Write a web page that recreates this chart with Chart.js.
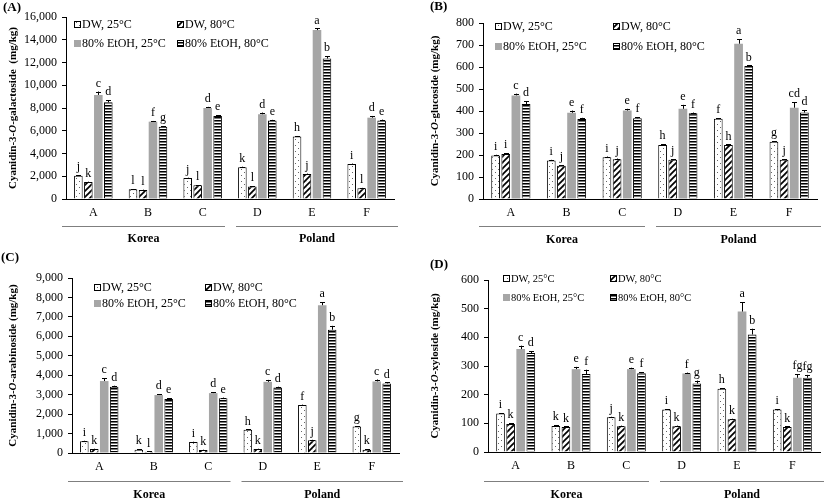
<!DOCTYPE html>
<html lang="en">
<head>
<meta charset="UTF-8">
<title>Cyanidin glycosides</title>
<script src="https://cdn.jsdelivr.net/npm/chart.js"></script>
<style>
  * { margin: 0; padding: 0; box-sizing: border-box; }
  body { width: 827px; height: 503px; background: #fff; position: relative; overflow: hidden; }
  canvas { position: absolute; }
</style>
</head>
<body>
<canvas id="chartA" width="413" height="250" style="left:0;top:0"></canvas>
<canvas id="chartB" width="414" height="250" style="left:413px;top:0"></canvas>
<canvas id="chartC" width="413" height="253" style="left:0;top:250px"></canvas>
<canvas id="chartD" width="414" height="253" style="left:413px;top:250px"></canvas>
<script>
const categories = ['A', 'B', 'C', 'D', 'E', 'F'];
const regions = ['Korea', 'Poland'];
const seriesNames = ['DW, 25°C', 'DW, 80°C', '80% EtOH, 25°C', '80% EtOH, 80°C'];

// (A) cyanidin-3-O-galactoside
const galDW25 = [2050, 850, 1850, 2800, 5500, 3080];
const galDW80 = [1500, 800, 1200, 1100, 2200, 950];
const galEt25 = [9150, 6800, 8000, 7450, 14850, 7150];
const galEt80 = [8500, 6350, 7300, 6900, 12350, 6900];
const galErr = [[40, 30, 30, 40, 40, 40], [30, 30, 30, 30, 40, 30], [300, 60, 100, 150, 150, 150], [200, 60, 60, 60, 200, 80]];
const galLetters = [['j', 'l', 'j', 'k', 'h', 'i'], ['k', 'l', 'l', 'l', 'j', 'l'], ['c', 'f', 'd', 'd', 'a', 'd'], ['d', 'g', 'e', 'e', 'b', 'e']];
const galTicks = [0, 16000, 2000];

// (B) cyanidin-3-O-glucoside
const gluDW25 = [198, 175, 190, 246, 365, 260];
const gluDW80 = [205, 151, 181, 178, 245, 178];
const gluEt25 = [471, 392, 402, 410, 706, 415];
const gluEt80 = [432, 364, 367, 390, 604, 393];
const gluErr = [[3, 3, 3, 3, 3, 3], [3, 3, 3, 3, 3, 3], [8, 10, 8, 18, 20, 25], [12, 5, 5, 3, 3, 10]];
const gluLetters = [['i', 'i', 'i', 'h', 'f', 'g'], ['i', 'j', 'j', 'j', 'h', 'j'], ['c', 'e', 'e', 'e', 'a', 'cd'], ['d', 'f', 'f', 'f', 'b', 'd']];
const gluTicks = [0, 800, 100];

// (C) cyanidin-3-O-arabinoside
const araDW25 = [610, 170, 560, 1190, 2470, 1360];
const araDW80 = [200, 70, 150, 200, 660, 170];
const araEt25 = [3700, 2980, 3080, 3660, 7600, 3680];
const araEt80 = [3410, 2780, 2810, 3370, 6340, 3580];
const araErr = [[20, 20, 20, 20, 20, 20], [20, 10, 20, 20, 20, 20], [150, 40, 40, 100, 150, 100], [50, 40, 40, 40, 200, 50]];
const araLetters = [['i', 'k', 'i', 'h', 'f', 'g'], ['k', 'l', 'k', 'k', 'j', 'k'], ['c', 'd', 'd', 'c', 'a', 'c'], ['d', 'e', 'e', 'd', 'b', 'd']];
const araTicks = [0, 9000, 1000];

// (D) cyanidin-3-O-xyloside
const xylDW25 = [134, 91, 121, 148, 221, 148];
const xylDW80 = [98, 87, 90, 90, 114, 87];
const xylEt25 = [359, 289, 289, 274, 490, 259];
const xylEt80 = [345, 272, 275, 239, 410, 259];
const xylErr = [[2, 2, 2, 2, 2, 2], [2, 2, 2, 2, 2, 2], [12, 8, 5, 3, 33, 12], [7, 15, 3, 10, 20, 10]];
const xylLetters = [['i', 'k', 'j', 'i', 'h', 'i'], ['k', 'k', 'k', 'k', 'k', 'k'], ['c', 'e', 'e', 'f', 'a', 'fg'], ['d', 'f', 'f', 'g', 'b', 'fg']];
const xylTicks = [0, 600, 100];

const SERIF = '"Liberation Serif", "Times New Roman", serif';
const GREY = '#a6a6a6';

function makePattern(kind) {
  const c = document.createElement('canvas');
  const x = c.getContext('2d');
  if (kind === 'dots') {
    c.width = 6; c.height = 6;
    x.fillStyle = '#fff'; x.fillRect(0, 0, 6, 6);
    x.fillStyle = '#666'; x.fillRect(1, 1, 1, 1); x.fillRect(4, 4, 1, 1);
  } else if (kind === 'diag') {
    c.width = 6; c.height = 6;
    x.fillStyle = '#fff'; x.fillRect(0, 0, 6, 6);
    x.strokeStyle = '#000'; x.lineWidth = 1.7;
    [[-6, 6, 6, -6], [0, 6, 6, 0], [0, 12, 12, 0]].forEach(l => {
      x.beginPath(); x.moveTo(l[0], l[1]); x.lineTo(l[2], l[3]); x.stroke();
    });
  } else {
    c.width = 4; c.height = 3;
    x.fillStyle = '#fff'; x.fillRect(0, 0, 4, 3);
    x.fillStyle = '#000'; x.fillRect(0, 0, 4, 1);
    x.fillStyle = '#777'; x.fillRect(0, 1, 4, 1);
  }
  return x.createPattern(c, 'repeat');
}

const ctx0 = document.createElement('canvas').getContext('2d');
const fills = [makePattern('dots'), makePattern('diag'), GREY, makePattern('stripes')];

// layout per panel, in canvas-local pixels
const panels = {
  chartA: { tag: '(A)', tagPos: [3, 8], title: ['Cyanidin-3-', 'O', '-galactoside  (mg/kg)'], titleX: 13,
    values: [galDW25, galDW80, galEt25, galEt80], errs: galErr, letters: galLetters, ticks: galTicks,
    area: { left: 66, right: 394, top: 17, bottom: 199 }, legend: { x: [74, 177], y: [25, 44], size: 12 },
    groupY: 226, groupLabelY: 239, W: 413, H: 250 },
  chartB: { tag: '(B)', tagPos: [17, 7], title: ['Cyanidin-3-', 'O', '-glucoside (mg/kg)'], titleX: 22,
    values: [gluDW25, gluDW80, gluEt25, gluEt80], errs: gluErr, letters: gluLetters, ticks: gluTicks,
    area: { left: 70, right: 404, top: 23, bottom: 199 }, legend: { x: [82, 200], y: [27, 47], size: 12 },
    groupY: 226, groupLabelY: 240, W: 414, H: 250 },
  chartC: { tag: '(C)', tagPos: [1, 8], title: ['Cyanidin-3-', 'O', '-arabinoside (mg/kg)'], titleX: 13,
    values: [araDW25, araDW80, araEt25, araEt80], errs: araErr, letters: araLetters, ticks: araTicks,
    area: { left: 72, right: 399, top: 28, bottom: 203 }, legend: { x: [94, 205], y: [38, 54], size: 12 },
    groupY: 231, groupLabelY: 245, W: 413, H: 253 },
  chartD: { tag: '(D)', tagPos: [17, 15], title: ['Cyanidin-3-', 'O', '-xyloside (mg/kg)'], titleX: 22,
    values: [xylDW25, xylDW80, xylEt25, xylEt80], errs: xylErr, letters: xylLetters, ticks: xylTicks,
    area: { left: 75, right: 407, top: 30, bottom: 202 }, legend: { x: [90, 197], y: [29, 48], size: 10.5 },
    groupY: 231, groupLabelY: 245, W: 414, H: 253 }
};

function drawBox(ctx, i, x, y, s) {
  ctx.fillStyle = fills[i];
  ctx.fillRect(x, y, s, s);
  if (i !== 2) {
    ctx.strokeStyle = '#000'; ctx.lineWidth = 1;
    ctx.strokeRect(x + 0.5, y + 0.5, s - 1, s - 1);
  }
}

const decor = {
  id: 'decor',
  afterDatasetsDraw(chart) {
    const cfg = panels[chart.canvas.id];
    const ctx = chart.ctx;
    const ys = chart.scales.y;
    ctx.save();
    ctx.strokeStyle = '#000'; ctx.lineWidth = 1;
    ctx.fillStyle = '#000';
    ctx.font = '12px ' + SERIF;
    ctx.textAlign = 'center'; ctx.textBaseline = 'bottom';
    chart.data.datasets.forEach((ds, i) => {
      chart.getDatasetMeta(i).data.forEach((bar, j) => {
        const top = ys.getPixelForValue(ds.data[j] + cfg.errs[i][j]);
        const x = Math.round(bar.x) + 0.5;
        ctx.beginPath();
        ctx.moveTo(x, bar.y); ctx.lineTo(x, top);
        ctx.moveTo(x - 2.5, Math.round(top) + 0.5); ctx.lineTo(x + 2.5, Math.round(top) + 0.5);
        ctx.stroke();
        ctx.fillText(cfg.letters[i][j], bar.x, top - 2);
      });
    });
    ctx.restore();
  },
  afterDraw(chart) {
    const cfg = panels[chart.canvas.id];
    const ctx = chart.ctx;
    const a = chart.chartArea;
    ctx.save();
    ctx.fillStyle = '#000';

    // panel tag
    ctx.font = 'bold 13px ' + SERIF;
    ctx.textAlign = 'left'; ctx.textBaseline = 'middle';
    ctx.fillText(cfg.tag, cfg.tagPos[0], cfg.tagPos[1]);

    // legend, two columns
    ctx.font = cfg.legend.size + 'px ' + SERIF;
    seriesNames.forEach((name, i) => {
      const x = cfg.legend.x[i % 2], y = cfg.legend.y[Math.floor(i / 2)];
      drawBox(ctx, i, x, Math.round(y - 4), 7);
      ctx.fillStyle = '#000';
      ctx.fillText(name, x + 8, y);
    });

    // Korea / Poland brackets
    const mid = (a.left + a.right) / 2;
    const spans = [[a.left - 4, mid - 5], [mid + 6, a.right + 4]];
    ctx.strokeStyle = '#7f7f7f'; ctx.lineWidth = 1;
    ctx.font = 'bold 12px ' + SERIF;
    ctx.textAlign = 'center';
    spans.forEach((s, k) => {
      ctx.beginPath();
      ctx.moveTo(s[0], cfg.groupY + 0.5); ctx.lineTo(s[1], cfg.groupY + 0.5);
      ctx.stroke();
      ctx.fillText(regions[k], (s[0] + s[1]) / 2, cfg.groupLabelY);
    });

    // rotated y-axis title with italic O
    const fonts = ['bold 11px ' + SERIF, 'bold italic 11px ' + SERIF, 'bold 11px ' + SERIF];
    const widths = cfg.title.map((t, k) => { ctx.font = fonts[k]; return ctx.measureText(t).width; });
    const total = widths.reduce((p, c) => p + c, 0);
    ctx.translate(cfg.titleX, (a.top + a.bottom) / 2);
    ctx.rotate(-Math.PI / 2);
    ctx.textAlign = 'left';
    let pos = -total / 2;
    cfg.title.forEach((t, k) => {
      ctx.font = fonts[k];
      ctx.fillText(t, pos, 0);
      pos += widths[k];
    });
    ctx.restore();
  }
};

function buildPanel(id) {
  const cfg = panels[id];
  new Chart(document.getElementById(id), {
    type: 'bar',
    data: {
      labels: categories,
      datasets: cfg.values.map((v, i) => ({
        label: seriesNames[i],
        data: v,
        backgroundColor: fills[i],
        borderColor: i === 2 ? GREY : '#000',
        borderWidth: i === 2 ? 0 : 1,
        barPercentage: 0.86,
        categoryPercentage: 0.73
      }))
    },
    options: {
      responsive: false,
      animation: false,
      layout: { padding: { left: 0, top: cfg.area.top, right: cfg.W - cfg.area.right, bottom: 0 } },
      plugins: { legend: { display: false }, tooltip: { enabled: false } },
      scales: {
        x: {
          grid: { display: false, drawTicks: false },
          border: { color: '#000', width: 1 },
          ticks: { color: '#000', font: { family: SERIF, size: 12 }, padding: 7 },
          afterFit: s => { s.height = cfg.H - cfg.area.bottom; }
        },
        y: {
          min: cfg.ticks[0], max: cfg.ticks[1],
          grid: { drawOnChartArea: false, color: '#000', tickLength: 4 },
          border: { color: '#000', width: 1 },
          ticks: { stepSize: cfg.ticks[2], color: '#000', font: { family: SERIF, size: 12 }, padding: 5,
            callback: v => v.toLocaleString('en-US') },
          afterFit: s => { s.width = cfg.area.left; }
        }
      }
    },
    plugins: [decor]
  });
}

Object.keys(panels).forEach(buildPanel);
</script>
</body>
</html>
